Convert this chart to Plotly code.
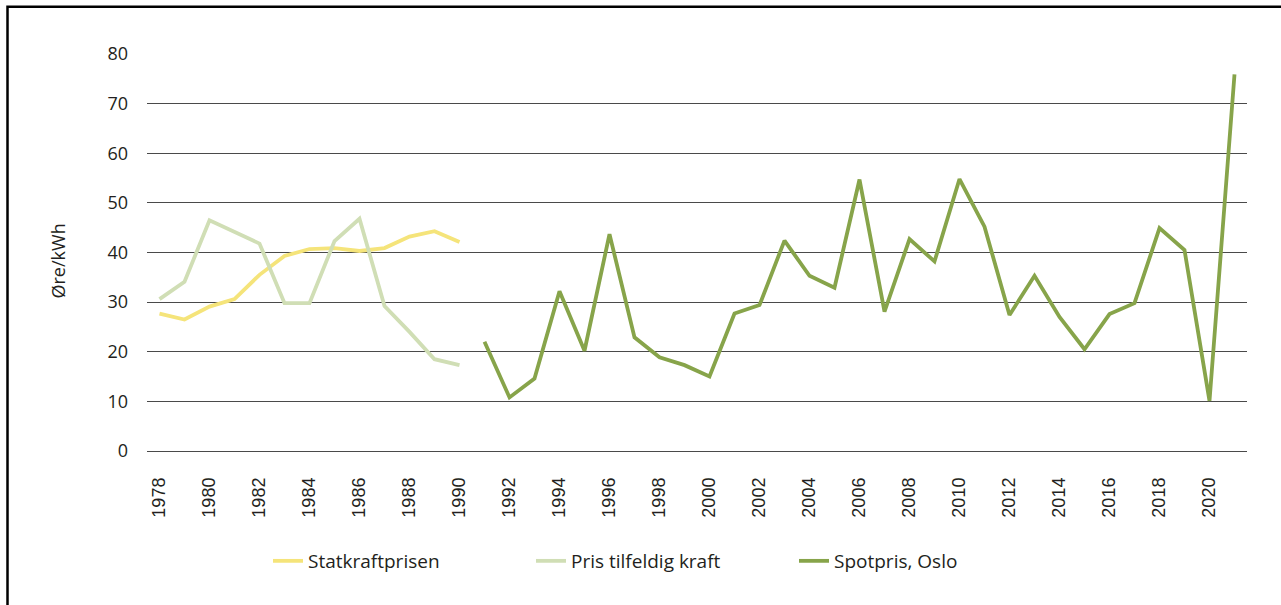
import plotly.graph_objects as go

years_stat = list(range(1978, 1991))
statkraft = [27.7, 26.5, 29.1, 30.6, 35.5, 39.3, 40.7, 40.9, 40.3, 40.9, 43.2, 44.3, 42.1]

years_tilf = list(range(1978, 1991))
tilfeldig = [30.6, 34.1, 46.5, 44.2, 41.8, 29.8, 29.8, 42.3, 46.8, 29.2, 24.0, 18.5, 17.3]

years_spot = list(range(1991, 2022))
spot = [22.0, 10.8, 14.6, 32.2, 20.2, 43.7, 22.9, 18.9, 17.3, 15.0,
        27.7, 29.4, 42.4, 35.3, 32.9, 54.7, 28.1, 42.7, 38.2, 54.8,
        45.2, 27.4, 35.3, 27.0, 20.5, 27.6, 29.8, 44.9, 40.5, 10.1, 75.9]

y_ticks = [0, 10, 20, 30, 40, 50, 60, 70, 80]
x_ticks = list(range(1978, 2021, 2))

fig = go.Figure()
fig.add_trace(go.Scatter(x=years_stat, y=statkraft, mode="lines", name="Statkraftprisen",
                         line=dict(color="#F5E47A", width=3.8)))
fig.add_trace(go.Scatter(x=years_tilf, y=tilfeldig, mode="lines", name="Pris tilfeldig kraft",
                         line=dict(color="#D0DEB5", width=3.8)))
fig.add_trace(go.Scatter(x=years_spot, y=spot, mode="lines", name="Spotpris, Oslo",
                         line=dict(color="#87A44A", width=3.8)))

W, H = 1281, 605
L, R, T, B = 147, 34, 54, 154
pw, ph = W - L - R, H - T - B

def px(x):
    return (x - L) / pw

def py(y):
    return (T + ph - y) / ph

fig.update_layout(
    width=W, height=H,
    margin=dict(l=L, r=R, t=T, b=B, pad=0),
    paper_bgcolor="white", plot_bgcolor="white",
    font=dict(family="Open Sans", size=18, color="#231F20"),
    showlegend=True,
    legend=dict(orientation="h", x=px(268), xanchor="left", y=py(561), yanchor="middle",
                entrywidth=218, entrywidthmode="pixels",
                font=dict(family="Open Sans", size=19, color="#231F20"),
                bgcolor="rgba(0,0,0,0)"),
    xaxis=dict(range=[1977.5, 2021.5], tickmode="array", tickvals=x_ticks,
               ticktext=[str(v) for v in x_ticks], tickangle=-90,
               showgrid=False, zeroline=False, showline=False, ticks="",
               ticklabelstandoff=22,
               tickfont=dict(family="Liberation Sans", size=18, color="#231F20")),
    yaxis=dict(range=[0, 80], tickmode="array", tickvals=y_ticks,
               showgrid=True, gridcolor="#4a4a4a", gridwidth=1.2,
               zeroline=True, zerolinecolor="#4a4a4a", zerolinewidth=1.2,
               showline=False, ticks="", ticklabelstandoff=18,
               tickfont=dict(family="Open Sans", size=18, color="#231F20")),
    annotations=[dict(text="Øre/kWh", textangle=-90, showarrow=False,
                      xref="paper", yref="paper", x=px(57.5), y=py(261),
                      xanchor="center", yanchor="middle",
                      font=dict(family="Open Sans", size=18, color="#231F20"))],
    shapes=[dict(type="rect", xref="paper", yref="paper",
                 x0=px(7.5), x1=px(1295), y0=py(620), y1=py(6.8),
                 line=dict(color="black", width=2.5), fillcolor="rgba(0,0,0,0)")],
)

fig.write_html("out.html", config={"displayModeBar": False},
               post_script="document.body.style.margin='0';document.body.style.padding='0';")
